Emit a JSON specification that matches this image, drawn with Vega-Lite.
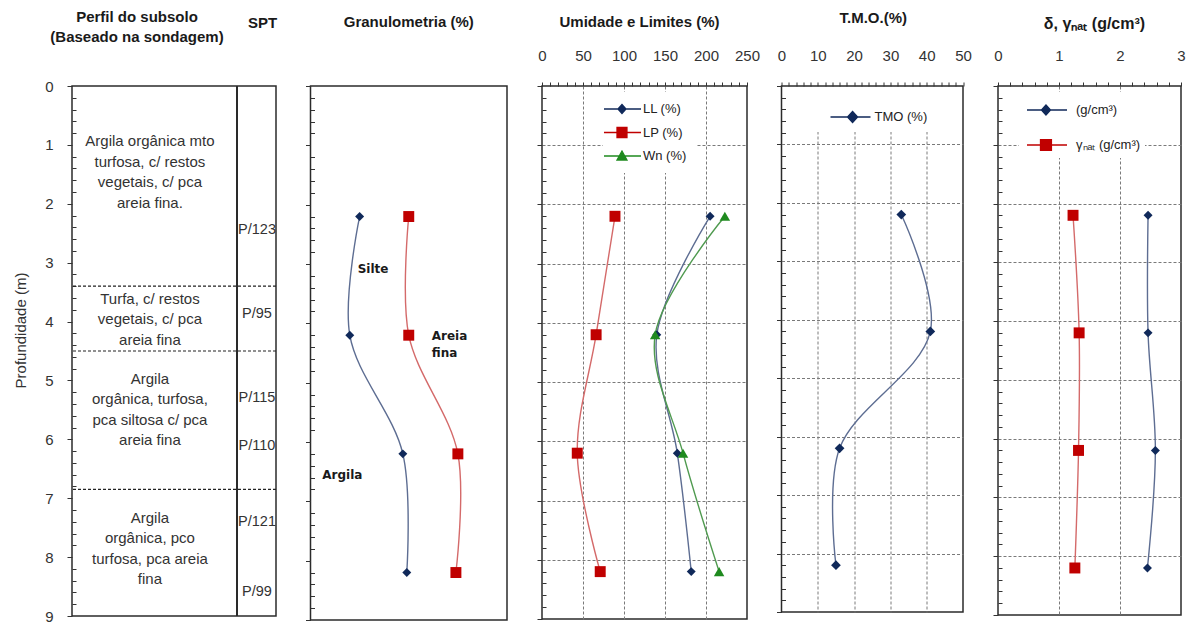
{
  "$schema": "https://vega.github.io/schema/vega-lite/v6.json",
  "background": "white",
  "padding": {"left": 12, "top": 9, "right": 5, "bottom": 0},
  "spacing": 34.5,
  "bounds": "flush",
  "resolve": {
    "scale": {"color": "independent", "fill": "independent", "stroke": "independent", "shape": "independent"},
    "legend": {"color": "independent", "fill": "independent", "stroke": "independent", "shape": "independent"}
  },
  "config": {
    "view": {"stroke": "#2b2b2b", "strokeWidth": 1.5},
    "font": "Liberation Sans",
    "title": {"font": "Liberation Sans", "fontSize": 15, "fontWeight": "bold", "color": "#1a1a1a", "anchor": "middle"},
    "axis": {"domain": false, "labelFont": "Liberation Sans", "labelColor": "#333333", "labelFontSize": 15, "tickColor": "#333333", "labelFlush": false, "labelOverlap": false, "labelBound": false, "grid": false}
  },
  "datasets": {
    "perfil": [
      {"prof": 0.94, "descricao": "Argila orgânica mto\nturfosa, c/ restos\nvegetais,  c/ pca\nareia fina."},
      {"prof": 3.61, "descricao": "Turfa, c/ restos\nvegetais, c/ pca\nareia fina"},
      {"prof": 4.97, "descricao": "Argila\norgânica, turfosa,\npca siltosa c/ pca\nareia fina"},
      {"prof": 7.33, "descricao": "Argila\norgânica, pco\nturfosa, pca areia\nfina"}
    ],
    "limites_camadas": [{"prof": 3.4}, {"prof": 4.5}, {"prof": 6.85}],
    "spt": [
      {"prof": 2.45, "spt": "P/123"},
      {"prof": 3.88, "spt": "P/95"},
      {"prof": 5.3, "spt": "P/115"},
      {"prof": 6.12, "spt": "P/110"},
      {"prof": 7.41, "spt": "P/121"},
      {"prof": 8.6, "spt": "P/99"}
    ],
    "granulometria": [
      {"prof": 2.2, "serie": "Argila", "valor": 25},
      {"prof": 4.2, "serie": "Argila", "valor": 20},
      {"prof": 6.2, "serie": "Argila", "valor": 47},
      {"prof": 8.2, "serie": "Argila", "valor": 49},
      {"prof": 2.2, "serie": "Argila + Silte", "valor": 50},
      {"prof": 4.2, "serie": "Argila + Silte", "valor": 50},
      {"prof": 6.2, "serie": "Argila + Silte", "valor": 75},
      {"prof": 8.2, "serie": "Argila + Silte", "valor": 74}
    ],
    "rotulos_granulometria": [
      {"prof": 3.09, "valor": 24, "texto": "Silte"},
      {"prof": 4.21, "valor": 61.7, "texto": "Areia\nfina"},
      {"prof": 6.55, "valor": 6, "texto": "Argila"}
    ],
    "umidade": [
      {"prof": 2.2, "serie": "LL (%)", "valor": 205},
      {"prof": 4.2, "serie": "LL (%)", "valor": 140},
      {"prof": 6.2, "serie": "LL (%)", "valor": 165},
      {"prof": 8.2, "serie": "LL (%)", "valor": 182},
      {"prof": 2.2, "serie": "LP (%)", "valor": 89},
      {"prof": 4.2, "serie": "LP (%)", "valor": 66},
      {"prof": 6.2, "serie": "LP (%)", "valor": 43},
      {"prof": 8.2, "serie": "LP (%)", "valor": 71},
      {"prof": 2.2, "serie": "Wn (%)", "valor": 223},
      {"prof": 4.2, "serie": "Wn (%)", "valor": 138},
      {"prof": 6.2, "serie": "Wn (%)", "valor": 172},
      {"prof": 8.2, "serie": "Wn (%)", "valor": 216}
    ],
    "tmo": [
      {"prof": 2.2, "serie": "TMO (%)", "valor": 33},
      {"prof": 4.2, "serie": "TMO (%)", "valor": 41},
      {"prof": 6.2, "serie": "TMO (%)", "valor": 16},
      {"prof": 8.2, "serie": "TMO (%)", "valor": 15}
    ],
    "densidade": [
      {"prof": 2.2, "serie": "(g/cm³)", "valor": 2.46},
      {"prof": 4.2, "serie": "(g/cm³)", "valor": 2.46},
      {"prof": 6.2, "serie": "(g/cm³)", "valor": 2.58},
      {"prof": 8.2, "serie": "(g/cm³)", "valor": 2.45},
      {"prof": 2.2, "serie": "γₙₐₜ (g/cm³)", "valor": 1.23},
      {"prof": 4.2, "serie": "γₙₐₜ (g/cm³)", "valor": 1.33},
      {"prof": 6.2, "serie": "γₙₐₜ (g/cm³)", "valor": 1.32},
      {"prof": 8.2, "serie": "γₙₐₜ (g/cm³)", "valor": 1.26}
    ]
  },
  "hconcat": [
    {
      "width": 204,
      "height": 530,
      "title": {"text": ["Perfil do subsolo", "(Baseado  na sondagem)"], "offset": -30, "dx": -37, "lineHeight": 20},
      "encoding": {
        "y": {"field": "prof", "type": "quantitative", "scale": {"domain": [0, 9], "nice": false, "zero": false, "reverse": true},
          "axis": {
            "values": [0,0.2,0.4,0.6,0.8,1,1.2,1.4,1.6,1.8,2,2.2,2.4,2.6,2.8,3,3.2,3.4,3.6,3.8,4,4.2,4.4,4.6,4.8,5,5.2,5.4,5.6,5.8,6,6.2,6.4,6.6,6.8,7,7.2,7.4,7.6,7.8,8,8.2,8.4,8.6,8.8,9],
            "labelExpr": "abs(datum.value - round(datum.value)) < 0.001 ? '' + round(datum.value) : ''",
            "tickSize": {"condition": {"test": "abs(datum.value - round(datum.value)) < 0.001", "value": 5}, "value": -4},
            "labelPadding": 14,
            "title": "Profundidade (m)",
            "titleFont": "Liberation Sans", "titleFontWeight": "normal", "titleFontSize": 15, "titleColor": "#333333",
            "titlePadding": 16, "titleY": 244
          }
        },
        "x": {"datum": 80.9, "type": "quantitative", "scale": {"domain": [0, 100], "nice": false, "zero": false},
          "axis": {"orient": "top", "labels": false, "ticks": false, "title": "SPT", "titleFont": "Liberation Sans", "titleFontSize": 15, "titleFontWeight": "bold", "titleColor": "#1a1a1a", "titleX": 190, "titleY": -64, "titleBaseline": "middle", "titleAngle": 0}
        }
      },
      "layer": [
        {
          "data": {"name": "limites_camadas"},
          "mark": {"type": "rule", "color": "#222222", "strokeWidth": 1.2, "strokeDash": [3, 2]},
          "encoding": {"x": null}
        },
        {
          "data": {"name": "spt"},
          "mark": {"type": "rule", "color": "#2b2b2b", "strokeWidth": 1.5},
          "encoding": {"y": null}
        },
        {
          "data": {"name": "perfil"},
          "mark": {"type": "text", "fontSize": 15, "color": "#333333", "lineBreak": "\n", "lineHeight": 20.5, "baseline": "middle", "align": "center"},
          "encoding": {
            "x": {"datum": 38.2, "type": "quantitative"},
            "text": {"field": "descricao"}
          }
        },
        {
          "data": {"name": "spt"},
          "mark": {"type": "text", "fontSize": 14.5, "color": "#333333", "baseline": "middle", "align": "center"},
          "encoding": {
            "x": {"datum": 90.7, "type": "quantitative"},
            "text": {"field": "spt"}
          }
        }
      ]
    },
    {
      "width": 196.5,
      "height": 534,
      "title": {"text": "Granulometria (%)", "offset": 56},
      "encoding": {
        "y": {"field": "prof", "type": "quantitative", "scale": {"domain": [0, 9], "nice": false, "zero": false, "reverse": true},
          "axis": {
            "values": [0,0.2,0.4,0.6,0.8,1,1.2,1.4,1.6,1.8,2,2.2,2.4,2.6,2.8,3,3.2,3.4,3.6,3.8,4,4.2,4.4,4.6,4.8,5,5.2,5.4,5.6,5.8,6,6.2,6.4,6.6,6.8,7,7.2,7.4,7.6,7.8,8,8.2,8.4,8.6,8.8,9],
            "labels": false, "title": null,
            "tickSize": {"condition": {"test": "abs(datum.value - round(datum.value)) < 0.001", "value": 5}, "value": -4}
          }
        },
        "x": {"field": "valor", "type": "quantitative", "scale": {"domain": [0, 100], "nice": false, "zero": false}, "axis": null}
      },
      "layer": [
        {
          "data": {"name": "granulometria"},
          "transform": [{"filter": "datum.serie === 'Argila'"}],
          "mark": {"type": "line", "interpolate": "catmull-rom", "strokeWidth": 1.4, "color": "#5d6d92"},
          "encoding": {"order": {"field": "prof", "type": "quantitative"}}
        },
        {
          "data": {"name": "granulometria"},
          "transform": [{"filter": "datum.serie === 'Argila + Silte'"}],
          "mark": {"type": "line", "interpolate": "catmull-rom", "strokeWidth": 1.4, "color": "#d46a6a"},
          "encoding": {"order": {"field": "prof", "type": "quantitative"}}
        },
        {
          "data": {"name": "granulometria"},
          "transform": [{"filter": "datum.serie === 'Argila'"}],
          "mark": {"type": "point", "shape": "diamond", "filled": true, "size": 80, "color": "#10295a", "opacity": 1}
        },
        {
          "data": {"name": "granulometria"},
          "transform": [{"filter": "datum.serie === 'Argila + Silte'"}],
          "mark": {"type": "point", "shape": "square", "filled": true, "size": 120, "color": "#c00000", "opacity": 1}
        },
        {
          "data": {"name": "rotulos_granulometria"},
          "mark": {"type": "text", "font": "DejaVu Sans", "fontSize": 12, "fontWeight": "bold", "color": "#1a1a1a", "align": "left", "baseline": "middle", "lineBreak": "\n", "lineHeight": 17},
          "encoding": {"text": {"field": "texto"}}
        }
      ]
    },
    {
      "width": 205,
      "height": 533,
      "title": {"text": "Umidade e Limites (%)", "offset": 18, "dx": -5},
      "data": {"name": "umidade"},
      "encoding": {
        "y": {"field": "prof", "type": "quantitative", "scale": {"domain": [0, 9], "nice": false, "zero": false, "reverse": true},
          "axis": {
            "values": [0,0.2,0.4,0.6,0.8,1,1.2,1.4,1.6,1.8,2,2.2,2.4,2.6,2.8,3,3.2,3.4,3.6,3.8,4,4.2,4.4,4.6,4.8,5,5.2,5.4,5.6,5.8,6,6.2,6.4,6.6,6.8,7,7.2,7.4,7.6,7.8,8,8.2,8.4,8.6,8.8,9],
            "labels": false, "title": null,
            "tickSize": {"condition": {"test": "abs(datum.value - round(datum.value)) < 0.001", "value": 5}, "value": -4},
            "grid": true, "gridColor": "#7a7a7a", "gridDash": [3, 2],
            "gridOpacity": {"condition": {"test": "abs(datum.value - round(datum.value)) < 0.001 && datum.value > 0 && datum.value < 9", "value": 1}, "value": 0}
          }
        },
        "x": {"field": "valor", "type": "quantitative", "scale": {"domain": [0, 250], "nice": false, "zero": false},
          "axis": {
            "orient": "top",
            "values": [0,10,20,30,40,50,60,70,80,90,100,110,120,130,140,150,160,170,180,190,200,210,220,230,240,250],
            "labelExpr": "datum.value % 50 === 0 ? '' + datum.value : ''",
            "tickSize": 4, "labelPadding": 19, "title": null,
            "grid": true, "gridColor": "#7a7a7a", "gridDash": [3, 2],
            "gridOpacity": {"condition": {"test": "datum.value % 50 === 0 && datum.value > 0 && datum.value < 250", "value": 1}, "value": 0}
          }
        }
      },
      "layer": [
        {
          "transform": [{"filter": "datum.serie === 'LL (%)'"}],
          "mark": {"type": "line", "interpolate": "catmull-rom", "strokeWidth": 1.4, "color": "#5d6d92"},
          "encoding": {"order": {"field": "prof", "type": "quantitative"}}
        },
        {
          "transform": [{"filter": "datum.serie === 'LP (%)'"}],
          "mark": {"type": "line", "interpolate": "catmull-rom", "strokeWidth": 1.4, "color": "#d46a6a"},
          "encoding": {"order": {"field": "prof", "type": "quantitative"}}
        },
        {
          "transform": [{"filter": "datum.serie === 'Wn (%)'"}],
          "mark": {"type": "line", "interpolate": "catmull-rom", "strokeWidth": 1.4, "color": "#4f9a4f"},
          "encoding": {"order": {"field": "prof", "type": "quantitative"}}
        },
        {
          "transform": [{"filter": "datum.serie === 'LL (%)'"}],
          "mark": {"type": "point", "shape": "diamond", "filled": true, "size": 80, "color": "#10295a", "opacity": 1}
        },
        {
          "transform": [{"filter": "datum.serie === 'LP (%)'"}],
          "mark": {"type": "point", "shape": "square", "filled": true, "size": 120, "color": "#c00000", "opacity": 1}
        },
        {
          "transform": [{"filter": "datum.serie === 'Wn (%)'"}],
          "mark": {"type": "point", "shape": "triangle-up", "filled": true, "size": 110, "color": "#1f8a1f", "opacity": 1}
        },
        {
          "mark": {"type": "point", "filled": true, "opacity": 0},
          "encoding": {
            "fill": {"field": "serie", "type": "nominal", "scale": {"domain": ["LL (%)", "LP (%)", "Wn (%)"], "range": ["#10295a", "#c00000", "#1f8a1f"]},
              "legend": {"orient": "none", "legendX": 61, "legendY": 6, "title": null, "padding": 10, "fillColor": "white", "symbolSize": 144, "symbolStrokeWidth": 1.3, "symbolOpacity": 1, "labelFont": "Liberation Sans", "labelFontSize": 13, "labelColor": "#222222", "labelOffset": 16, "rowPadding": 7.5, "labelExpr": "datum.label + '            '"}},
            "stroke": {"field": "serie", "type": "nominal", "scale": {"domain": ["LL (%)", "LP (%)", "Wn (%)"], "range": ["#10295a", "#c00000", "#1f8a1f"]},
              "legend": {"orient": "none", "legendX": 61, "legendY": 6, "title": null, "padding": 10, "fillColor": "white", "symbolSize": 144, "symbolStrokeWidth": 1.3, "symbolOpacity": 1, "labelFont": "Liberation Sans", "labelFontSize": 13, "labelColor": "#222222", "labelOffset": 16, "rowPadding": 7.5, "labelExpr": "datum.label + '            '"}},
            "shape": {"field": "serie", "type": "nominal", "scale": {"domain": ["LL (%)", "LP (%)", "Wn (%)"], "range": ["M-2.67,0H3.5M0.33,-0.75L1,0L0.33,0.75L-0.34,0Z", "M-2.67,0H3.5M-0.5,-0.83H1.16V0.83H-0.5Z", "M-2.67,0H3.5M0.33,-0.83L1.16,0.67H-0.5Z"]},
              "legend": {"orient": "none", "legendX": 61, "legendY": 6, "title": null, "padding": 10, "fillColor": "white", "symbolSize": 144, "symbolStrokeWidth": 1.3, "symbolOpacity": 1, "labelFont": "Liberation Sans", "labelFontSize": 13, "labelColor": "#222222", "labelOffset": 16, "rowPadding": 7.5, "labelExpr": "datum.label + '            '"}}
          }
        }
      ]
    },
    {
      "width": 181.5,
      "height": 526,
      "title": {"text": "T.M.O.(%)", "offset": 22, "dx": 1},
      "data": {"name": "tmo"},
      "encoding": {
        "y": {"field": "prof", "type": "quantitative", "scale": {"domain": [0, 9], "nice": false, "zero": false, "reverse": true},
          "axis": {
            "values": [0,0.2,0.4,0.6,0.8,1,1.2,1.4,1.6,1.8,2,2.2,2.4,2.6,2.8,3,3.2,3.4,3.6,3.8,4,4.2,4.4,4.6,4.8,5,5.2,5.4,5.6,5.8,6,6.2,6.4,6.6,6.8,7,7.2,7.4,7.6,7.8,8,8.2,8.4,8.6,8.8,9],
            "labels": false, "title": null,
            "tickSize": {"condition": {"test": "abs(datum.value - round(datum.value)) < 0.001", "value": 5}, "value": -4},
            "grid": true, "gridColor": "#7a7a7a", "gridDash": [3, 2],
            "gridOpacity": {"condition": {"test": "abs(datum.value - round(datum.value)) < 0.001 && datum.value > 0 && datum.value < 9", "value": 1}, "value": 0}
          }
        },
        "x": {"field": "valor", "type": "quantitative", "scale": {"domain": [0, 50], "nice": false, "zero": false},
          "axis": {
            "orient": "top",
            "values": [0,2,4,6,8,10,12,14,16,18,20,22,24,26,28,30,32,34,36,38,40,42,44,46,48,50],
            "labelExpr": "datum.value % 10 === 0 ? '' + datum.value : ''",
            "tickSize": 4, "labelPadding": 19, "title": null,
            "grid": true, "gridColor": "#7a7a7a", "gridDash": [3, 2],
            "gridOpacity": {"condition": {"test": "datum.value % 10 === 0 && datum.value > 0 && datum.value < 50", "value": 1}, "value": 0}
          }
        }
      },
      "layer": [
        {
          "mark": {"type": "line", "interpolate": "catmull-rom", "strokeWidth": 1.4, "color": "#5d6d92"},
          "encoding": {"order": {"field": "prof", "type": "quantitative"}}
        },
        {
          "mark": {"type": "point", "shape": "diamond", "filled": true, "size": 95, "color": "#10295a", "opacity": 1}
        },
        {
          "mark": {"type": "point", "filled": true, "opacity": 0},
          "encoding": {
            "fill": {"field": "serie", "type": "nominal", "scale": {"domain": ["TMO (%)"], "range": ["#10295a"]},
              "legend": {"orient": "none", "legendX": 16, "legendY": 1, "title": null, "padding": 6, "fillColor": "white", "symbolSize": 2116, "symbolStrokeWidth": 1.3, "symbolOpacity": 1, "labelFont": "Liberation Sans", "labelFontSize": 13, "labelColor": "#222222", "labelOffset": 23, "labelExpr": "datum.label + '        '"}},
            "stroke": {"field": "serie", "type": "nominal", "scale": {"domain": ["TMO (%)"], "range": ["#10295a"]},
              "legend": {"orient": "none", "legendX": 16, "legendY": 1, "title": null, "padding": 6, "fillColor": "white", "symbolSize": 2116, "symbolStrokeWidth": 1.3, "symbolOpacity": 1, "labelFont": "Liberation Sans", "labelFontSize": 13, "labelColor": "#222222", "labelOffset": 23, "labelExpr": "datum.label + '        '"}},
            "shape": {"field": "serie", "type": "nominal", "scale": {"domain": ["TMO (%)"], "range": ["M0.13,0H1.87M1.09,-0.24L1.31,0L1.09,0.24L0.87,0Z"]},
              "legend": {"orient": "none", "legendX": 16, "legendY": 1, "title": null, "padding": 6, "fillColor": "white", "symbolSize": 2116, "symbolStrokeWidth": 1.3, "symbolOpacity": 1, "labelFont": "Liberation Sans", "labelFontSize": 13, "labelColor": "#222222", "labelOffset": 23, "labelExpr": "datum.label + '        '"}}
          }
        }
      ]
    },
    {
      "width": 183,
      "height": 529,
      "title": {"text": "δ, γₙₐₜ (g/cm³)", "offset": 16, "fontSize": 16, "dx": 5},
      "data": {"name": "densidade"},
      "encoding": {
        "y": {"field": "prof", "type": "quantitative", "scale": {"domain": [0, 9], "nice": false, "zero": false, "reverse": true},
          "axis": {
            "values": [0,0.2,0.4,0.6,0.8,1,1.2,1.4,1.6,1.8,2,2.2,2.4,2.6,2.8,3,3.2,3.4,3.6,3.8,4,4.2,4.4,4.6,4.8,5,5.2,5.4,5.6,5.8,6,6.2,6.4,6.6,6.8,7,7.2,7.4,7.6,7.8,8,8.2,8.4,8.6,8.8,9],
            "labels": false, "title": null,
            "tickSize": {"condition": {"test": "abs(datum.value - round(datum.value)) < 0.001", "value": 5}, "value": -4},
            "grid": true, "gridColor": "#7a7a7a", "gridDash": [3, 2],
            "gridOpacity": {"condition": {"test": "abs(datum.value - round(datum.value)) < 0.001 && datum.value > 0 && datum.value < 9", "value": 1}, "value": 0}
          }
        },
        "x": {"field": "valor", "type": "quantitative", "scale": {"domain": [0, 3], "nice": false, "zero": false},
          "axis": {
            "orient": "top",
            "values": [0,0.2,0.4,0.6,0.8,1,1.2,1.4,1.6,1.8,2,2.2,2.4,2.6,2.8,3],
            "labelExpr": "abs(datum.value - round(datum.value)) < 0.001 ? '' + round(datum.value) : ''",
            "tickSize": 4, "labelPadding": 19, "title": null,
            "grid": true, "gridColor": "#7a7a7a", "gridDash": [3, 2],
            "gridOpacity": {"condition": {"test": "abs(datum.value - round(datum.value)) < 0.001 && datum.value > 0 && datum.value < 3", "value": 1}, "value": 0}
          }
        }
      },
      "layer": [
        {
          "transform": [{"filter": "datum.serie === '(g/cm³)'"}],
          "mark": {"type": "line", "interpolate": "catmull-rom", "strokeWidth": 1.4, "color": "#5d6d92"},
          "encoding": {"order": {"field": "prof", "type": "quantitative"}}
        },
        {
          "transform": [{"filter": "datum.serie === 'γₙₐₜ (g/cm³)'"}],
          "mark": {"type": "line", "interpolate": "catmull-rom", "strokeWidth": 1.4, "color": "#d46a6a"},
          "encoding": {"order": {"field": "prof", "type": "quantitative"}}
        },
        {
          "transform": [{"filter": "datum.serie === '(g/cm³)'"}],
          "mark": {"type": "point", "shape": "diamond", "filled": true, "size": 80, "color": "#10295a", "opacity": 1}
        },
        {
          "transform": [{"filter": "datum.serie === 'γₙₐₜ (g/cm³)'"}],
          "mark": {"type": "point", "shape": "square", "filled": true, "size": 120, "color": "#c00000", "opacity": 1}
        },
        {
          "mark": {"type": "point", "filled": true, "opacity": 0},
          "encoding": {
            "fill": {"field": "serie", "type": "nominal", "scale": {"domain": ["(g/cm³)", "γₙₐₜ (g/cm³)"], "range": ["#10295a", "#c00000"]},
              "legend": {"orient": "none", "legendX": 21, "legendY": 6, "title": null, "padding": 4, "fillColor": "white", "symbolSize": 676, "symbolStrokeWidth": 1.3, "symbolOpacity": 1, "labelFont": "Liberation Sans", "labelFontSize": 13, "labelColor": "#222222", "labelOffset": 25, "rowPadding": 13, "labelExpr": "datum.label + '       '"}},
            "stroke": {"field": "serie", "type": "nominal", "scale": {"domain": ["(g/cm³)", "γₙₐₜ (g/cm³)"], "range": ["#10295a", "#c00000"]},
              "legend": {"orient": "none", "legendX": 21, "legendY": 6, "title": null, "padding": 4, "fillColor": "white", "symbolSize": 676, "symbolStrokeWidth": 1.3, "symbolOpacity": 1, "labelFont": "Liberation Sans", "labelFontSize": 13, "labelColor": "#222222", "labelOffset": 25, "rowPadding": 13, "labelExpr": "datum.label + '       '"}},
            "shape": {"field": "serie", "type": "nominal", "scale": {"domain": ["(g/cm³)", "γₙₐₜ (g/cm³)"], "range": ["M-0.77,0H2.31M0.69,-0.38L1.04,0L0.69,0.38L0.34,0Z", "M-0.77,0H2.31M0.27,-0.42H1.11V0.42H0.27Z"]},
              "legend": {"orient": "none", "legendX": 21, "legendY": 6, "title": null, "padding": 4, "fillColor": "white", "symbolSize": 676, "symbolStrokeWidth": 1.3, "symbolOpacity": 1, "labelFont": "Liberation Sans", "labelFontSize": 13, "labelColor": "#222222", "labelOffset": 25, "rowPadding": 13, "labelExpr": "datum.label + '       '"}}
          }
        }
      ]
    }
  ]
}
